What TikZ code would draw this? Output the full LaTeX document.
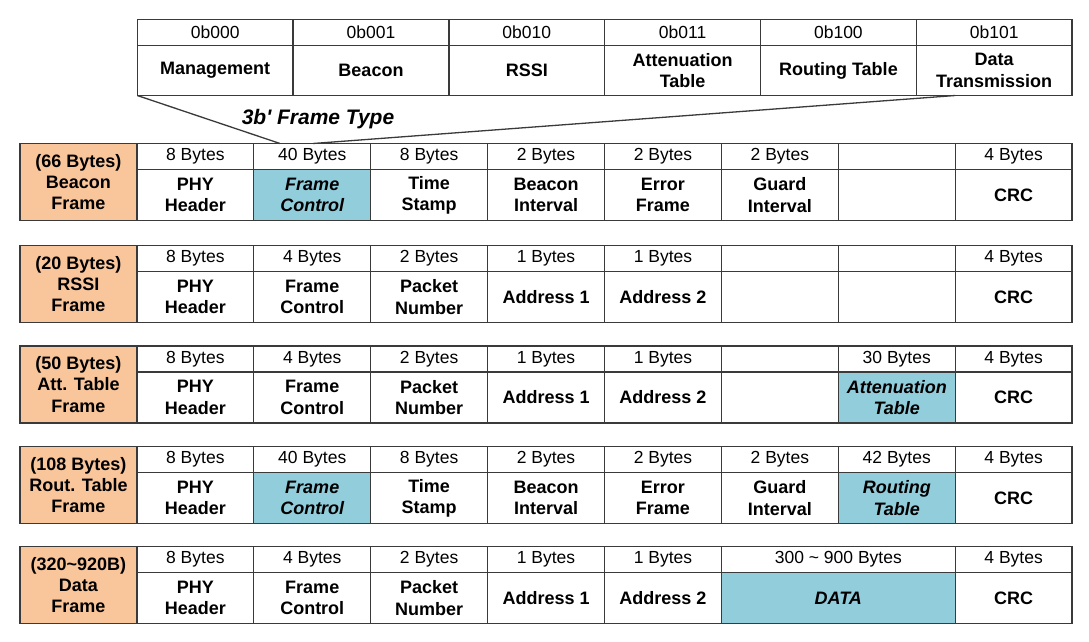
\documentclass[tikz,border=0pt]{standalone}
\usepackage{fontspec}
\setmainfont{Liberation Sans}[Ligatures=TeXOff]
\usetikzlibrary{calc}
\definecolor{lc}{HTML}{3A3A3A}
\definecolor{hlblue}{HTML}{92CDDC}
\definecolor{lorange}{HTML}{F9C59B}
\newcommand\FC[7]{%
  \node[bytec, minimum width=#4*116.9pt] (#1t) at ({20+#2*116.9},#3) {#6};
  \node[fieldc, minimum width=#4*116.9pt, #5] (#1b) at ({20+#2*116.9},#3+26) {#7};}
\newcommand\FL[3]{\node[lbl] (#1) at (20,#2) {#3};}
\begin{document}
\begin{tikzpicture}[x=1pt,y=-1pt,
  cellbase/.style={draw=lc, line width=1.3pt, inner sep=0pt, outer sep=0pt, anchor=north west, align=center},
  bytec/.style={cellbase, minimum height=26pt, font=\fontsize{17.5}{21}\selectfont},
  fieldc/.style={cellbase, minimum height=51pt, font=\fontsize{18}{21.3}\selectfont\bfseries},
  hl/.style={fill=hlblue, font=\fontsize{18}{21.3}\selectfont\bfseries\itshape},
  lbl/.style={cellbase, fill=lorange, minimum width=116.9pt, minimum height=77pt, font=\fontsize{18}{21.2}\selectfont\bfseries},
  codec/.style={cellbase, minimum width=155.8pt, minimum height=26pt, font=\fontsize{17.5}{21}\selectfont},
  namec/.style={cellbase, minimum width=155.8pt, minimum height=50pt, font=\fontsize{18}{21.3}\selectfont\bfseries},
  fan/.style={draw=lc, line width=1.3pt}]
\fill[white] (0,0) rectangle (1089,642);
\useasboundingbox (0,0) rectangle (1089,642);
% frame type table
\foreach \i/\c/\n in {0/0b000/Management, 1/0b001/Beacon, 2/0b010/RSSI, 3/0b011/{Attenuation\\Table}, 4/0b100/{Routing Table}, 5/0b101/{Data\\Transmission}}{
  \node[codec] (t\i) at ({137.3+\i*155.8},19.5) {\c};
  \node[namec] (m\i) at ({137.3+\i*155.8},45.5) {\n};
}
\coordinate (fl) at (280,143.5);
\coordinate (fr) at (313,143.5);
\draw[fan] (m0.south west) -- (fl);
\draw[fan] ($(m5.south west)!0.25!(m5.south east)$) -- (fr);
\node[font=\fontsize{21}{24}\selectfont\bfseries\itshape] (ft) at (318,119) {3b' Frame Type};
% Beacon frame
\FL{Bl}{143.5}{(66 Bytes)\\Beacon\\Frame}
\FC{B1}{1}{143.5}{1}{}{8 Bytes}{PHY\\Header}
\FC{B2}{2}{143.5}{1}{hl}{40 Bytes}{Frame\\Control}
\FC{B3}{3}{143.5}{1}{}{8 Bytes}{Time\\Stamp}
\FC{B4}{4}{143.5}{1}{}{2 Bytes}{Beacon\\Interval}
\FC{B5}{5}{143.5}{1}{}{2 Bytes}{Error\\Frame}
\FC{B6}{6}{143.5}{1}{}{2 Bytes}{Guard\\Interval}
\FC{B7}{7}{143.5}{1}{}{}{}
\FC{B8}{8}{143.5}{1}{}{4 Bytes}{CRC}
% RSSI frame
\FL{Rl}{245.5}{(20 Bytes)\\RSSI\\Frame}
\FC{R1}{1}{245.5}{1}{}{8 Bytes}{PHY\\Header}
\FC{R2}{2}{245.5}{1}{}{4 Bytes}{Frame\\Control}
\FC{R3}{3}{245.5}{1}{}{2 Bytes}{Packet\\Number}
\FC{R4}{4}{245.5}{1}{}{1 Bytes}{Address 1}
\FC{R5}{5}{245.5}{1}{}{1 Bytes}{Address 2}
\FC{R6}{6}{245.5}{1}{}{}{}
\FC{R7}{7}{245.5}{1}{}{}{}
\FC{R8}{8}{245.5}{1}{}{4 Bytes}{CRC}
% Att. Table frame
\FL{Al}{346}{(50 Bytes)\\Att. Table\\Frame}
\FC{A1}{1}{346}{1}{}{8 Bytes}{PHY\\Header}
\FC{A2}{2}{346}{1}{}{4 Bytes}{Frame\\Control}
\FC{A3}{3}{346}{1}{}{2 Bytes}{Packet\\Number}
\FC{A4}{4}{346}{1}{}{1 Bytes}{Address 1}
\FC{A5}{5}{346}{1}{}{1 Bytes}{Address 2}
\FC{A6}{6}{346}{1}{}{}{}
\FC{A7}{7}{346}{1}{hl}{30 Bytes}{Attenuation\\Table}
\FC{A8}{8}{346}{1}{}{4 Bytes}{CRC}
% Rout. Table frame
\FL{Tl}{446.5}{(108 Bytes)\\Rout. Table\\Frame}
\FC{T1}{1}{446.5}{1}{}{8 Bytes}{PHY\\Header}
\FC{T2}{2}{446.5}{1}{hl}{40 Bytes}{Frame\\Control}
\FC{T3}{3}{446.5}{1}{}{8 Bytes}{Time\\Stamp}
\FC{T4}{4}{446.5}{1}{}{2 Bytes}{Beacon\\Interval}
\FC{T5}{5}{446.5}{1}{}{2 Bytes}{Error\\Frame}
\FC{T6}{6}{446.5}{1}{}{2 Bytes}{Guard\\Interval}
\FC{T7}{7}{446.5}{1}{hl}{42 Bytes}{Routing\\Table}
\FC{T8}{8}{446.5}{1}{}{4 Bytes}{CRC}
% Data frame
\FL{Dl}{546.5}{(320\textasciitilde920B)\\Data\\Frame}
\FC{D1}{1}{546.5}{1}{}{8 Bytes}{PHY\\Header}
\FC{D2}{2}{546.5}{1}{}{4 Bytes}{Frame\\Control}
\FC{D3}{3}{546.5}{1}{}{2 Bytes}{Packet\\Number}
\FC{D4}{4}{546.5}{1}{}{1 Bytes}{Address 1}
\FC{D5}{5}{546.5}{1}{}{1 Bytes}{Address 2}
\FC{D6}{6}{546.5}{2}{hl}{300 \textasciitilde{} 900 Bytes}{DATA}
\FC{D8}{8}{546.5}{1}{}{4 Bytes}{CRC}
\end{tikzpicture}
\end{document}
